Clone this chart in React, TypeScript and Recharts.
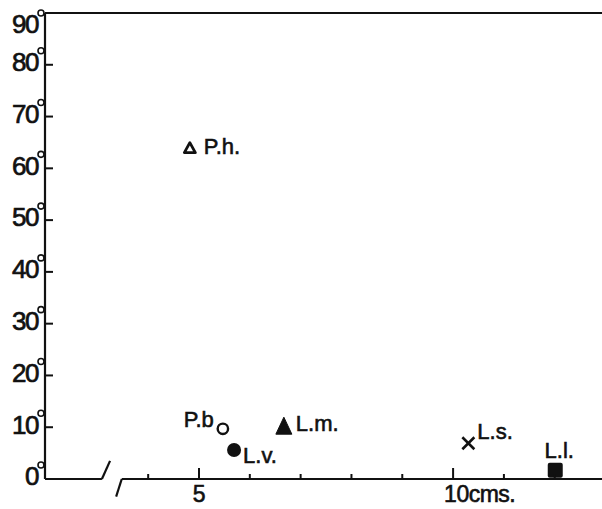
import React from 'react'
import {
  ScatterChart,
  Scatter,
  XAxis,
  YAxis,
  ReferenceLine,
} from 'recharts'

// Species codes, body length (cms.) and angle (degrees)
const species = ['P.h.', 'P.b', 'L.v.', 'L.m.', 'L.s.', 'L.l.']
const lengths = [4.82, 5.47, 5.69, 6.67, 10.3, 12.01]
const angles = [63.9, 9.7, 5.6, 10.2, 6.9, 1.7]
const markers = ['openTriangle', 'openCircle', 'dot', 'triangle', 'cross', 'square']

const yTicks = [0, 10, 20, 30, 40, 50, 60, 70, 80, 90]
const xTicks = [4, 5, 6, 7, 8, 9, 10, 11, 12]
const xLabels: Record<number, string> = { 5: '5', 10: '10cms.' }

const INK = '#111'
const FONT = '"Liberation Sans", Arial, sans-serif'

// where the x axis is broken
const X_MIN = 1.97
const X_MAX = 12.93
const BREAK_END = 3.09
const AXIS_RESTART = 3.48

// label placement around each marker
const labelStyle: Record<string, { dx: number; dy: number; anchor: 'start' | 'end' | 'middle' }> = {
  'P.h.': { dx: 14, dy: 6, anchor: 'start' },
  'P.b': { dx: -9, dy: -2, anchor: 'end' },
  'L.v.': { dx: 9, dy: 13, anchor: 'start' },
  'L.m.': { dx: 12, dy: 5, anchor: 'start' },
  'L.s.': { dx: 9, dy: -4, anchor: 'start' },
  'L.l.': { dx: 4, dy: -12, anchor: 'middle' },
}

const data = species.map((name, i) => ({
  name,
  length: lengths[i],
  angle: angles[i],
  marker: markers[i],
}))

function Marker({ kind, cx, cy }: { kind: string; cx: number; cy: number }) {
  switch (kind) {
    case 'openTriangle':
      return (
        <polygon
          points={`${cx - 5.5},${cy + 4.5} ${cx + 5.5},${cy + 4.5} ${cx},${cy - 5.5}`}
          fill="none"
          stroke={INK}
          strokeWidth={2.8}
          strokeLinejoin="round"
        />
      )
    case 'openCircle':
      return <circle cx={cx} cy={cy} r={5.2} fill="none" stroke={INK} strokeWidth={2.4} />
    case 'dot':
      return <circle cx={cx} cy={cy} r={7} fill={INK} />
    case 'triangle':
      return (
        <polygon
          points={`${cx - 8},${cy + 8} ${cx + 8},${cy + 8} ${cx},${cy - 9}`}
          fill={INK}
          stroke={INK}
          strokeLinejoin="round"
        />
      )
    case 'cross':
      return (
        <g stroke={INK} strokeWidth={2.6}>
          <line x1={cx - 6} y1={cy - 6} x2={cx + 6} y2={cy + 6} />
          <line x1={cx + 6} y1={cy - 6} x2={cx - 6} y2={cy + 6} />
        </g>
      )
    case 'square':
      return <rect x={cx - 7.5} y={cy - 7.5} width={15} height={15} rx={2} fill={INK} />
    default:
      return null
  }
}

const renderPoint = (props: any) => {
  const { cx, cy, payload } = props
  const ls = labelStyle[payload.name]
  return (
    <g>
      <Marker kind={payload.marker} cx={cx} cy={cy} />
      <text
        x={cx + ls.dx}
        y={cy + ls.dy}
        textAnchor={ls.anchor}
        fontFamily={FONT}
        fontSize={22}
        letterSpacing={0}
        fill={INK}
        stroke={INK}
        strokeWidth={0.6}
      >
        {payload.name}
      </text>
    </g>
  )
}

const YTick = (props: any) => {
  const { x, y, payload } = props
  const v = payload.value
  const ty = v === 90 ? y + 11 : y - 3
  return (
    <g>
      {v > 0 && v < 90 && <line x1={x} y1={y} x2={x + 8} y2={y} stroke={INK} strokeWidth={2} />}
      <text
        x={x - 7}
        y={ty}
        dy="0.36em"
        textAnchor="end"
        fontFamily={FONT}
        fontSize={26}
        letterSpacing={-1.5}
        fill={INK}
        stroke={INK}
        strokeWidth={0.7}
      >
        {v}
      </text>
      <circle cx={x - 4} cy={ty - 11} r={3} fill="none" stroke={INK} strokeWidth={1.6} />
    </g>
  )
}

const XTick = (props: any) => {
  const { x, y, payload } = props
  const v = payload.value
  const label = xLabels[v]
  return (
    <g>
      <line x1={x} y1={y} x2={x} y2={y - (label ? 11 : 5)} stroke={INK} strokeWidth={2} />
      {label && (
        <text
          x={label.length > 2 ? x - 9 : x}
          y={y + 23}
          textAnchor={label.length > 2 ? 'start' : 'middle'}
          fontFamily={FONT}
          fontSize={23}
          letterSpacing={-0.5}
          fill={INK}
          stroke={INK}
          strokeWidth={0.6}
        >
          {label}
        </text>
      )}
    </g>
  )
}

export default function App() {
  return (
    <div style={{ position: 'absolute', left: 0, top: 0, width: 602, height: 509, background: '#fff' }}>
      <ScatterChart width={602} height={509} margin={{ top: 13, right: 0, bottom: 0, left: 5 }}>
        <XAxis
          type="number"
          dataKey="length"
          domain={[X_MIN, X_MAX]}
          allowDataOverflow
          ticks={xTicks}
          interval={0}
          axisLine={false}
          tickLine={false}
          tickSize={0}
          tickMargin={0}
          height={30}
          tick={XTick}
        />
        <YAxis
          type="number"
          dataKey="angle"
          domain={[0, 90]}
          allowDataOverflow
          ticks={yTicks}
          interval={0}
          axisLine={{ stroke: INK, strokeWidth: 2.2 }}
          tickLine={false}
          tickSize={0}
          tickMargin={0}
          width={40}
          tick={YTick}
        />
        {/* top frame line */}
        <ReferenceLine y={90} stroke={INK} strokeWidth={2.2} />
        {/* broken x axis */}
        <ReferenceLine
          segment={[{ x: X_MIN, y: 0 }, { x: BREAK_END, y: 0 }]}
          stroke={INK}
          strokeWidth={2.2}
          ifOverflow="visible"
        />
        <ReferenceLine
          segment={[{ x: BREAK_END, y: 0 }, { x: 3.25, y: 3.5 }]}
          stroke={INK}
          strokeWidth={2.2}
          ifOverflow="visible"
        />
        <ReferenceLine
          segment={[{ x: 3.37, y: -3.4 }, { x: AXIS_RESTART, y: 0 }]}
          stroke={INK}
          strokeWidth={2.2}
          ifOverflow="visible"
        />
        <ReferenceLine
          segment={[{ x: AXIS_RESTART, y: 0 }, { x: X_MAX, y: 0 }]}
          stroke={INK}
          strokeWidth={2.2}
          ifOverflow="visible"
        />
        <Scatter data={data} shape={renderPoint} isAnimationActive={false} />
      </ScatterChart>
    </div>
  )
}
